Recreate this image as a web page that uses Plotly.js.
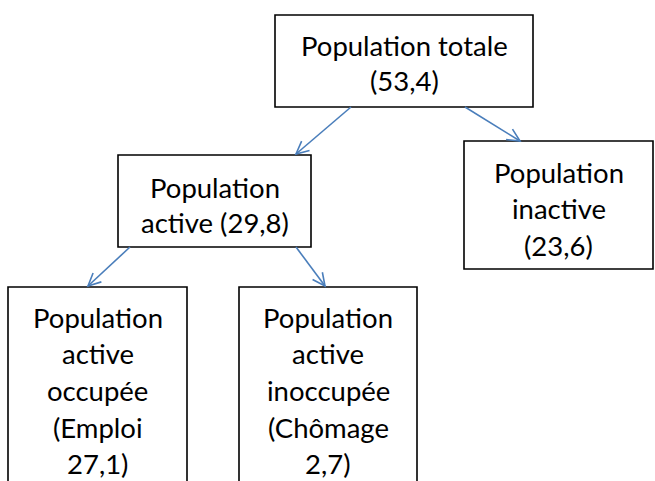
<!DOCTYPE html>
<html>
<head>
<meta charset="utf-8">
<script src="https://cdn.plot.ly/plotly-3.0.1.min.js"></script>
<style>html,body{margin:0;padding:0;background:#fff;}#chart{width:655px;height:481px;}</style>
</head>
<body>
<div id="chart"></div>
<script>
// Data
var labels = ["Population totale", "Population active", "Population inactive", "Population active occupée", "Population active inoccupée"];
var values = [53.4, 29.8, 23.6, 27.1, 2.7];
var notes = ["", "", "", "Emploi", "Chômage"];
var parents = [-1, 0, 0, 1, 1];

function fr(v) { return v.toFixed(1).replace(".", ","); }

// Text lines for each node as in the original diagram
var nodeLines = [
  [labels[0], "(" + fr(values[0]) + ")"],
  ["Population", "active (" + fr(values[1]) + ")"],
  ["Population", "inactive", "(" + fr(values[2]) + ")"],
  ["Population", "active", "occupée", "(" + notes[3], fr(values[3]) + ")"],
  ["Population", "active", "inoccupée", "(" + notes[4], fr(values[4]) + ")"]
];

// Layout geometry (pixels, y downward)
var boxes = [
  {x0: 275, x1: 533, y0: 15, y1: 107, lines: [45, 80]},
  {x0: 118, x1: 311, y0: 155, y1: 247, lines: [187, 222]},
  {x0: 464, x1: 653, y0: 141, y1: 269, lines: [172, 208, 245]},
  {x0: 8, x1: 187, y0: 287, y1: 520, lines: [317, 353, 390, 427, 463]},
  {x0: 239, x1: 417, y0: 287, y1: 520, lines: [317, 353, 390, 427, 463]}
];
var arrows = [
  null,
  {x0: 351, y0: 107, x1: 296, y1: 154},
  {x0: 465, y0: 107, x1: 520, y1: 141},
  {x0: 130, y0: 247, x1: 88, y1: 286},
  {x0: 296, y0: 247, x1: 325, y1: 286}
];

var shapes = [];
var annotations = [];
var blue = "#4a7ebb";
for (var i = 0; i < labels.length; i++) {
  var b = boxes[i];
  shapes.push({type: "rect", xref: "x", yref: "y", x0: b.x0, x1: b.x1, y0: b.y0, y1: b.y1,
    line: {color: "#000", width: 1.6}, fillcolor: "rgba(0,0,0,0)"});
  var cx = (b.x0 + b.x1) / 2;
  for (var k = 0; k < nodeLines[i].length; k++) {
    annotations.push({x: cx, y: b.lines[k], xref: "x", yref: "y", text: nodeLines[i][k],
      showarrow: false, xanchor: "center", yanchor: "middle",
      font: {family: "Lato, 'Open Sans', sans-serif", size: 27.5, color: "#000"}});
  }
  if (parents[i] >= 0) {
    var a = arrows[i];
    shapes.push({type: "line", xref: "x", yref: "y", x0: a.x0, y0: a.y0, x1: a.x1, y1: a.y1,
      line: {color: blue, width: 1.6}});
    var ang = Math.atan2(a.y1 - a.y0, a.x1 - a.x0);
    var L = 14, spread = 0.45;
    var p = "M " + (a.x1 - L * Math.cos(ang - spread)) + " " + (a.y1 - L * Math.sin(ang - spread)) +
      " L " + a.x1 + " " + a.y1 +
      " L " + (a.x1 - L * Math.cos(ang + spread)) + " " + (a.y1 - L * Math.sin(ang + spread));
    shapes.push({type: "path", xref: "x", yref: "y", path: p, line: {color: blue, width: 1.6}});
  }
}

var layout = {
  width: 655, height: 481,
  margin: {l: 0, r: 0, t: 0, b: 0, pad: 0},
  paper_bgcolor: "#fff", plot_bgcolor: "#fff",
  showlegend: false,
  xaxis: {range: [0, 655], visible: false, fixedrange: true},
  yaxis: {range: [481, 0], visible: false, fixedrange: true},
  shapes: shapes,
  annotations: annotations
};
Plotly.newPlot("chart", [{x: [], y: [], type: "scatter", hoverinfo: "skip"}], layout, {staticPlot: true, displayModeBar: false});
</script>
</body>
</html>
